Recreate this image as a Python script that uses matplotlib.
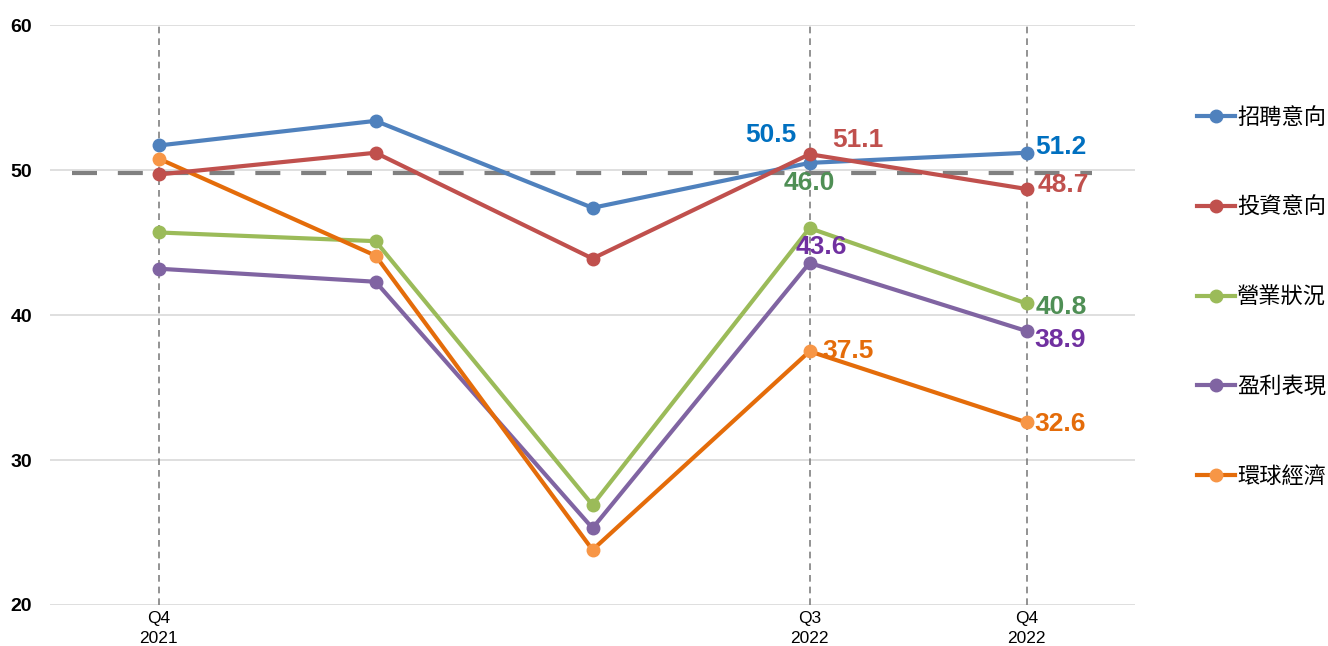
import matplotlib.pyplot as plt

# data
periods = ["Q4\n2021", "", "", "Q3\n2022", "Q4\n2022"]
series_names = ["招聘意向", "投資意向", "營業狀況", "盈利表現", "環球經濟"]
hiring = [51.7, 53.4, 47.4, 50.5, 51.2]
investment = [49.7, 51.2, 43.9, 51.1, 48.7]
business = [45.7, 45.1, 26.9, 46.0, 40.8]
profit = [43.2, 42.3, 25.3, 43.6, 38.9]
economy = [50.8, 44.1, 23.8, 37.5, 32.6]
neutral = 49.8

line_colors = ["#4f81bd", "#c0504d", "#9bbb59", "#8064a2", "#e46c0a"]
marker_colors = ["#4f81bd", "#c0504d", "#9bbb59", "#8064a2", "#f79646"]
label_colors = ["#0070c0", "#c0504d", "#4f8f55", "#7030a0", "#e46c0a"]

# label offsets (pixels) for the Q3/Q4 2022 values
offsets_q3 = [(-13, 28, "right"), (23, 14, "left"), (0, 45, "center"), (12, 16, "center"), (13, 0, "left")]
offsets_q4 = [(9, 6, "left"), (11, 4, "left"), (9, -4, "left"), (8, -9, "left"), (8, -2, "left")]

fig = plt.figure(figsize=(13.28, 6.46), dpi=100)
ax = fig.add_axes([0.0377, 0.0635, 0.817, 0.8975])

x = list(range(len(periods)))
all_series = [hiring, investment, business, profit, economy]

# grid and reference lines
for v in [20, 30, 40, 50, 60]:
    ax.axhline(v, color="#d9d9d9", lw=1.2, zorder=0)
for xi in [0, 3, 4]:
    ax.axvline(xi, color="#808080", lw=1.2, ls=(0, (4, 3)), zorder=1)
ax.plot([-0.4, 4.3], [neutral, neutral], color="#808080", lw=3, ls=(0, (6, 5)), zorder=2)

for i, vals in enumerate(all_series):
    ax.plot(x, vals, color=line_colors[i], lw=3, marker="o", markersize=9,
            markerfacecolor=marker_colors[i], markeredgecolor=marker_colors[i],
            label=series_names[i], zorder=3 + i * 0.1 if i != 1 else 3.45)

    for xi, offs in [(3, offsets_q3[i]), (4, offsets_q4[i])]:
        dx, dy, ha = offs
        ax.annotate(f"{vals[xi]:.1f}", (xi, vals[xi]), xytext=(dx, dy),
                    textcoords="offset pixels", ha=ha, va="center",
                    color=label_colors[i], fontsize=19, fontweight="bold",
                    family="Liberation Sans", zorder=5)

ax.set_xlim(-0.5, 4.5)
ax.set_ylim(20, 60)
ax.set_yticks([20, 30, 40, 50, 60])
ax.set_yticklabels(["20", "30", "40", "50", "60"], fontsize=14, fontweight="bold",
                   family="Liberation Sans")
ax.set_xticks([0, 3, 4])
ax.set_xticklabels(["Q4\n2021", "Q3\n2022", "Q4\n2022"], fontsize=12.5,
                   family=["Liberation Sans Narrow", "Liberation Sans"], linespacing=1.45)
ax.tick_params(axis="x", length=0, pad=4)
ax.tick_params(axis="y", length=0, pad=13)
for s in ax.spines.values():
    s.set_visible(False)

leg = ax.legend(loc="upper left", bbox_to_anchor=(1.039, 0.895), frameon=False,
                prop={"family": ["Noto Sans CJK TC", "DejaVu Sans"], "size": 16},
                labelspacing=3.0, handlelength=1.7, handletextpad=0.1)

fig.savefig("out.png", dpi=100)
